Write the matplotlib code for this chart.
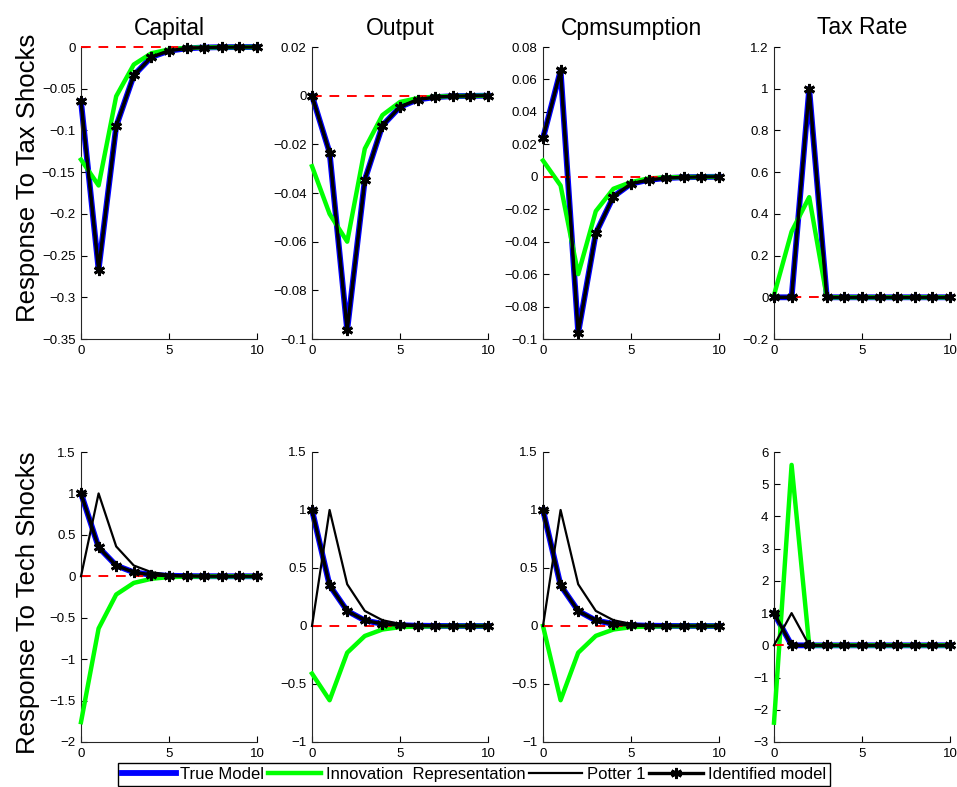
import numpy as np
import matplotlib
matplotlib.use('Agg')
import matplotlib.pyplot as plt
from matplotlib.ticker import FixedLocator, FuncFormatter

plt.rcParams['font.family'] = ['Liberation Sans', 'DejaVu Sans']

t = np.arange(11)

titles = ['Capital', 'Output', 'Cpmsumption', 'Tax Rate']
row_labels = ['Response To Tax Shocks', 'Response To Tech Shocks']

# tax shock responses
tax_true = [
    [-0.065, -0.267, -0.095, -0.034, -0.012, -0.0045, -0.0016, -0.0006, -0.0002, -0.0001, 0.0],
    [0.0, -0.0234, -0.0964, -0.0346, -0.0123, -0.0046, -0.0016, -0.0006, -0.0002, -0.0001, 0.0],
    [0.0238, 0.0656, -0.0963, -0.0348, -0.0122, -0.0043, -0.0019, -0.0008, -0.0003, -0.0001, 0.0],
    [0.0, 0.0, 1.0, 0.0, 0.0, 0.0, 0.0, 0.0, 0.0, 0.0, 0.0],
]
tax_innov = [
    [-0.135, -0.166, -0.059, -0.021, -0.0075, -0.003, -0.001, -0.0005, -0.0002, -0.0001, 0.0],
    [-0.029, -0.0486, -0.060, -0.0218, -0.008, -0.0026, -0.001, -0.0004, -0.0002, -0.0001, 0.0],
    [0.010, -0.0054, -0.060, -0.0212, -0.0074, -0.0033, -0.001, -0.0004, -0.0002, -0.0001, 0.0],
    [0.01, 0.315, 0.48, 0.0, 0.0, 0.0, 0.0, 0.0, 0.0, 0.0, 0.0],
]
tax_potter = tax_true
tax_ident = tax_true

# tech shock responses
tech_true = [
    [1.0, 0.35, 0.13, 0.048, 0.018, 0.0067, 0.0025, 0.0009, 0.0003, 0.0001, 0.0],
    [1.0, 0.35, 0.13, 0.048, 0.018, 0.0067, 0.0025, 0.0009, 0.0003, 0.0001, 0.0],
    [1.0, 0.35, 0.13, 0.048, 0.018, 0.0067, 0.0025, 0.0009, 0.0003, 0.0001, 0.0],
    [1.0, 0.0, 0.0, 0.0, 0.0, 0.0, 0.0, 0.0, 0.0, 0.0, 0.0],
]
tech_innov = [
    [-1.76, -0.63, -0.22, -0.08, -0.03, -0.01, -0.004, -0.0015, -0.0005, -0.0002, 0.0],
    [-0.41, -0.64, -0.23, -0.086, -0.03, -0.01, -0.004, -0.0015, -0.0005, -0.0002, 0.0],
    [0.0, -0.64, -0.23, -0.085, -0.03, -0.01, -0.004, -0.0015, -0.0005, -0.0002, 0.0],
    [-2.4, 5.6, 0.0, 0.0, 0.0, 0.0, 0.0, 0.0, 0.0, 0.0, 0.0],
]
tech_potter = [
    [0.0, 1.0, 0.36, 0.13, 0.05, 0.018, 0.0067, 0.0025, 0.0009, 0.0003, 0.0001],
    [0.0, 1.0, 0.36, 0.13, 0.05, 0.018, 0.0067, 0.0025, 0.0009, 0.0003, 0.0001],
    [0.0, 1.0, 0.36, 0.13, 0.05, 0.018, 0.0067, 0.0025, 0.0009, 0.0003, 0.0001],
    [0.0, 1.0, 0.0, 0.0, 0.0, 0.0, 0.0, 0.0, 0.0, 0.0, 0.0],
]
tech_ident = tech_true

yticks = [
    [[-0.35, -0.3, -0.25, -0.2, -0.15, -0.1, -0.05, 0],
     [-0.1, -0.08, -0.06, -0.04, -0.02, 0, 0.02],
     [-0.1, -0.08, -0.06, -0.04, -0.02, 0, 0.02, 0.04, 0.06, 0.08],
     [-0.2, 0, 0.2, 0.4, 0.6, 0.8, 1, 1.2]],
    [[-2, -1.5, -1, -0.5, 0, 0.5, 1, 1.5],
     [-1, -0.5, 0, 0.5, 1, 1.5],
     [-1, -0.5, 0, 0.5, 1, 1.5],
     [-3, -2, -1, 0, 1, 2, 3, 4, 5, 6]],
]

rows = [
    (tax_true, tax_innov, tax_potter, tax_ident),
    (tech_true, tech_innov, tech_potter, tech_ident),
]


def tick_fmt(v, pos):
    s = '%g' % round(v, 6)
    if s == '-0':
        s = '0'
    return s.replace('-', '\u2212')


W, H = 957, 787
fig = plt.figure(figsize=(W / 100, H / 100), dpi=100)

lefts = [81, 312, 543, 774]
ax_w = 176
row_box = [(47, 339), (452, 742)]
label_y = [0.551, 0.479]

handles = None
for r, (tr, inn, pot, idn) in enumerate(rows):
    top, bot = row_box[r]
    for c in range(4):
        ax = fig.add_axes([lefts[c] / W, 1 - bot / H, ax_w / W, (bot - top) / H])
        h1, = ax.plot(t, tr[c], color='#0000ff', lw=4.2, label='True Model',
                      zorder=2, clip_on=False)
        h2, = ax.plot(t, inn[c], color='#00ff00', lw=3.2, label='Innovation  Representation',
                      zorder=3, clip_on=False)
        # zero reference line
        ax.plot([0, 10], [0, 0], color='red', ls='--', lw=1.4, dashes=(5, 4),
                zorder=3.5, clip_on=False)
        h3, = ax.plot(t, pot[c], color='black', lw=1.6, label='Potter 1',
                      zorder=4, clip_on=False)
        h4, = ax.plot(t, idn[c], color='black', lw=2.4, marker=(6, 2, 0), ms=8, mew=2,
                      label='Identified model', zorder=5, clip_on=False)
        handles = [h1, h2, h3, h4]

        yt = yticks[r][c]
        ax.set_xlim(0, 10)
        ax.set_ylim(yt[0], yt[-1])
        ax.xaxis.set_major_locator(FixedLocator([0, 5, 10]))
        ax.yaxis.set_major_locator(FixedLocator(yt))
        ax.yaxis.set_major_formatter(FuncFormatter(tick_fmt))
        ax.tick_params(direction='in', labelsize=9.5, length=4, width=0.8, pad=4)
        ax.spines['top'].set_visible(False)
        ax.spines['right'].set_visible(False)
        for s in ('left', 'bottom'):
            ax.spines[s].set_linewidth(0.8)
            ax.spines[s].set_color('#262626')

        if r == 0:
            ax.set_title(titles[c], fontsize=16.5, pad=9)
        if c == 0:
            ax.set_ylabel(row_labels[r], fontsize=18.5)
            ax.yaxis.set_label_coords(-0.235, label_y[r])

fig.legend(handles, [h.get_label() for h in handles], ncol=4,
           loc='upper left', bbox_to_anchor=(118 / W, 1 - 763 / H),
           fontsize=12, frameon=True, fancybox=False, edgecolor='black',
           framealpha=1, handlelength=3.2, handletextpad=0.3, columnspacing=0.2,
           borderpad=0.25, borderaxespad=0)

fig.savefig('out.png', dpi=100)
